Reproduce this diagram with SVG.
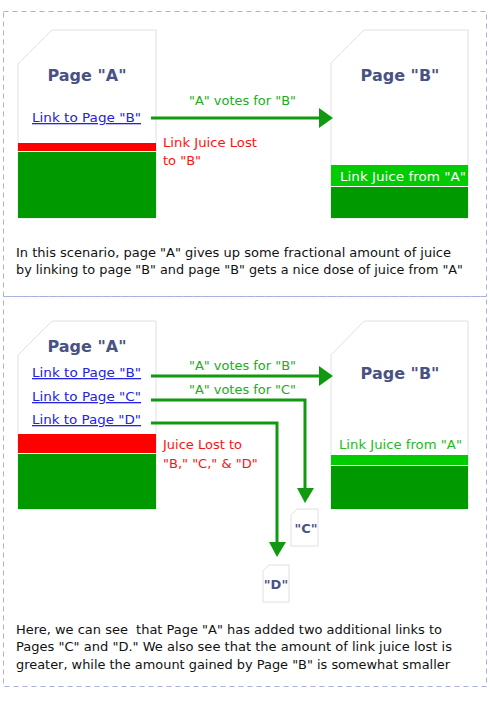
<svg xmlns="http://www.w3.org/2000/svg" width="490" height="717" viewBox="0 0 490 717">
<defs>
<style>
text{font-family:"DejaVu Sans","Liberation Sans",sans-serif}
.frame{fill:none;stroke:#a9b0dc;stroke-width:1;stroke-dasharray:5,4}
.card{fill:#fff;stroke:#e0e0e0;stroke-width:1}
.title{font-size:16px;font-weight:bold;fill:#4a5283;text-anchor:middle}
.small{font-size:13px;font-weight:bold;fill:#4a5283;text-anchor:middle}
.link{font-size:13px;fill:#2323e0;text-decoration:underline}
.vote{font-size:13px;fill:#22aa22}
.lost{font-size:13px;fill:#ff1111}
.para{font-size:13px;fill:#111}
.red{fill:#ff0000}
.dg{fill:#009900}
.lg{fill:#00cc00}
.arrow{fill:none;stroke:#129912;stroke-width:3}
.head{fill:#129912}
</style>
</defs>
<rect width="490" height="717" fill="#fff"/>
<g id="panel1">
<rect class="frame" x="3.5" y="11.5" width="483" height="285"/>
<g id="pageA1">
<polygon class="card" points="52,30 156,30 156,218 18,218 18,64"/>
<text class="title" x="87" y="81">Page "A"</text>
<text class="link" x="32" y="122" textLength="109" lengthAdjust="spacingAndGlyphs">Link to Page "B"</text>
<rect class="red" x="18" y="143" width="138" height="8"/>
<rect class="dg" x="18" y="152" width="138" height="66"/>
</g>
<g id="pageB1">
<polygon class="card" points="364,30 468,30 468,218 331,218 331,63"/>
<text class="title" x="400" y="81">Page "B"</text>
<rect class="lg" x="331" y="165" width="137" height="21"/>
<text x="340" y="181" textLength="126" lengthAdjust="spacingAndGlyphs" style="font-size:13px;fill:#fff">Link Juice from "A"</text>
<rect class="dg" x="331" y="187" width="137" height="31"/>
</g>
<g id="connectors1">
<line class="arrow" x1="151" y1="118" x2="320" y2="118"/>
<polygon class="head" points="319,108 333,118 319,128"/>
<text class="vote" x="189" y="105" textLength="107" lengthAdjust="spacingAndGlyphs">"A" votes for "B"</text>
</g>
<text class="lost" x="163" y="147" textLength="94" lengthAdjust="spacingAndGlyphs">Link Juice Lost</text>
<text class="lost" x="163" y="165">to "B"</text>
<text class="para" x="16" y="257" textLength="435" lengthAdjust="spacingAndGlyphs">In this scenario, page "A" gives up some fractional amount of juice</text>
<text class="para" x="16" y="274" textLength="447" lengthAdjust="spacingAndGlyphs">by linking to page "B" and page "B" gets a nice dose of juice from "A"</text>
</g>
<g id="panel2">
<rect class="frame" x="3.5" y="296.5" width="483" height="390"/>
<g id="pageA2">
<polygon class="card" points="52,321 156,321 156,509 18,509 18,355"/>
<text class="title" x="87" y="352">Page "A"</text>
<text class="link" x="32" y="377" textLength="109" lengthAdjust="spacingAndGlyphs">Link to Page "B"</text>
<text class="link" x="32" y="401" textLength="109" lengthAdjust="spacingAndGlyphs">Link to Page "C"</text>
<text class="link" x="32" y="424" textLength="109" lengthAdjust="spacingAndGlyphs">Link to Page "D"</text>
<rect class="red" x="18" y="434" width="138" height="19"/>
<rect class="dg" x="18" y="454" width="138" height="55"/>
</g>
<g id="pageB2">
<polygon class="card" points="364,321 468,321 468,509 331,509 331,355"/>
<text class="title" x="400" y="379">Page "B"</text>
<text x="339" y="449" textLength="123" lengthAdjust="spacingAndGlyphs" style="font-size:13px;fill:#22bb22">Link Juice from "A"</text>
<rect class="lg" x="331" y="455" width="137" height="10"/>
<rect class="dg" x="331" y="466" width="137" height="43"/>
</g>
<g id="pageC">
<polygon class="card" points="297,509 318,509 318,546 291,546 291,515"/>
<text class="small" x="306" y="533">"C"</text>
</g>
<g id="pageD">
<polygon class="card" points="269,565 289,565 289,602 263,602 263,571"/>
<text class="small" x="276" y="589">"D"</text>
</g>
<g id="connectors2">
<line class="arrow" x1="151" y1="376" x2="320" y2="376"/>
<polygon class="head" points="319,366 333,376 319,386"/>
<text class="vote" x="189" y="370" textLength="107" lengthAdjust="spacingAndGlyphs">"A" votes for "B"</text>
<polyline class="arrow" points="151,400 305,400 305,490"/>
<polygon class="head" points="297,488 314,488 305,503"/>
<text class="vote" x="189" y="394" textLength="107" lengthAdjust="spacingAndGlyphs">"A" votes for "C"</text>
<polyline class="arrow" points="151,423 277,423 277,544"/>
<polygon class="head" points="269,542 286,542 277,557"/>
</g>
<text class="lost" x="163" y="449">Juice Lost to</text>
<text class="lost" x="163" y="468">"B," "C," &amp; "D"</text>
<text class="para" x="16" y="634" xml:space="preserve" textLength="426" lengthAdjust="spacingAndGlyphs">Here, we can see  that Page "A" has added two additional links to</text>
<text class="para" x="16" y="651" textLength="436" lengthAdjust="spacingAndGlyphs">Pages "C" and "D." We also see that the amount of link juice lost is</text>
<text class="para" x="16" y="669" textLength="434" lengthAdjust="spacingAndGlyphs">greater, while the amount gained by Page "B" is somewhat smaller</text>
</g>
</svg>
